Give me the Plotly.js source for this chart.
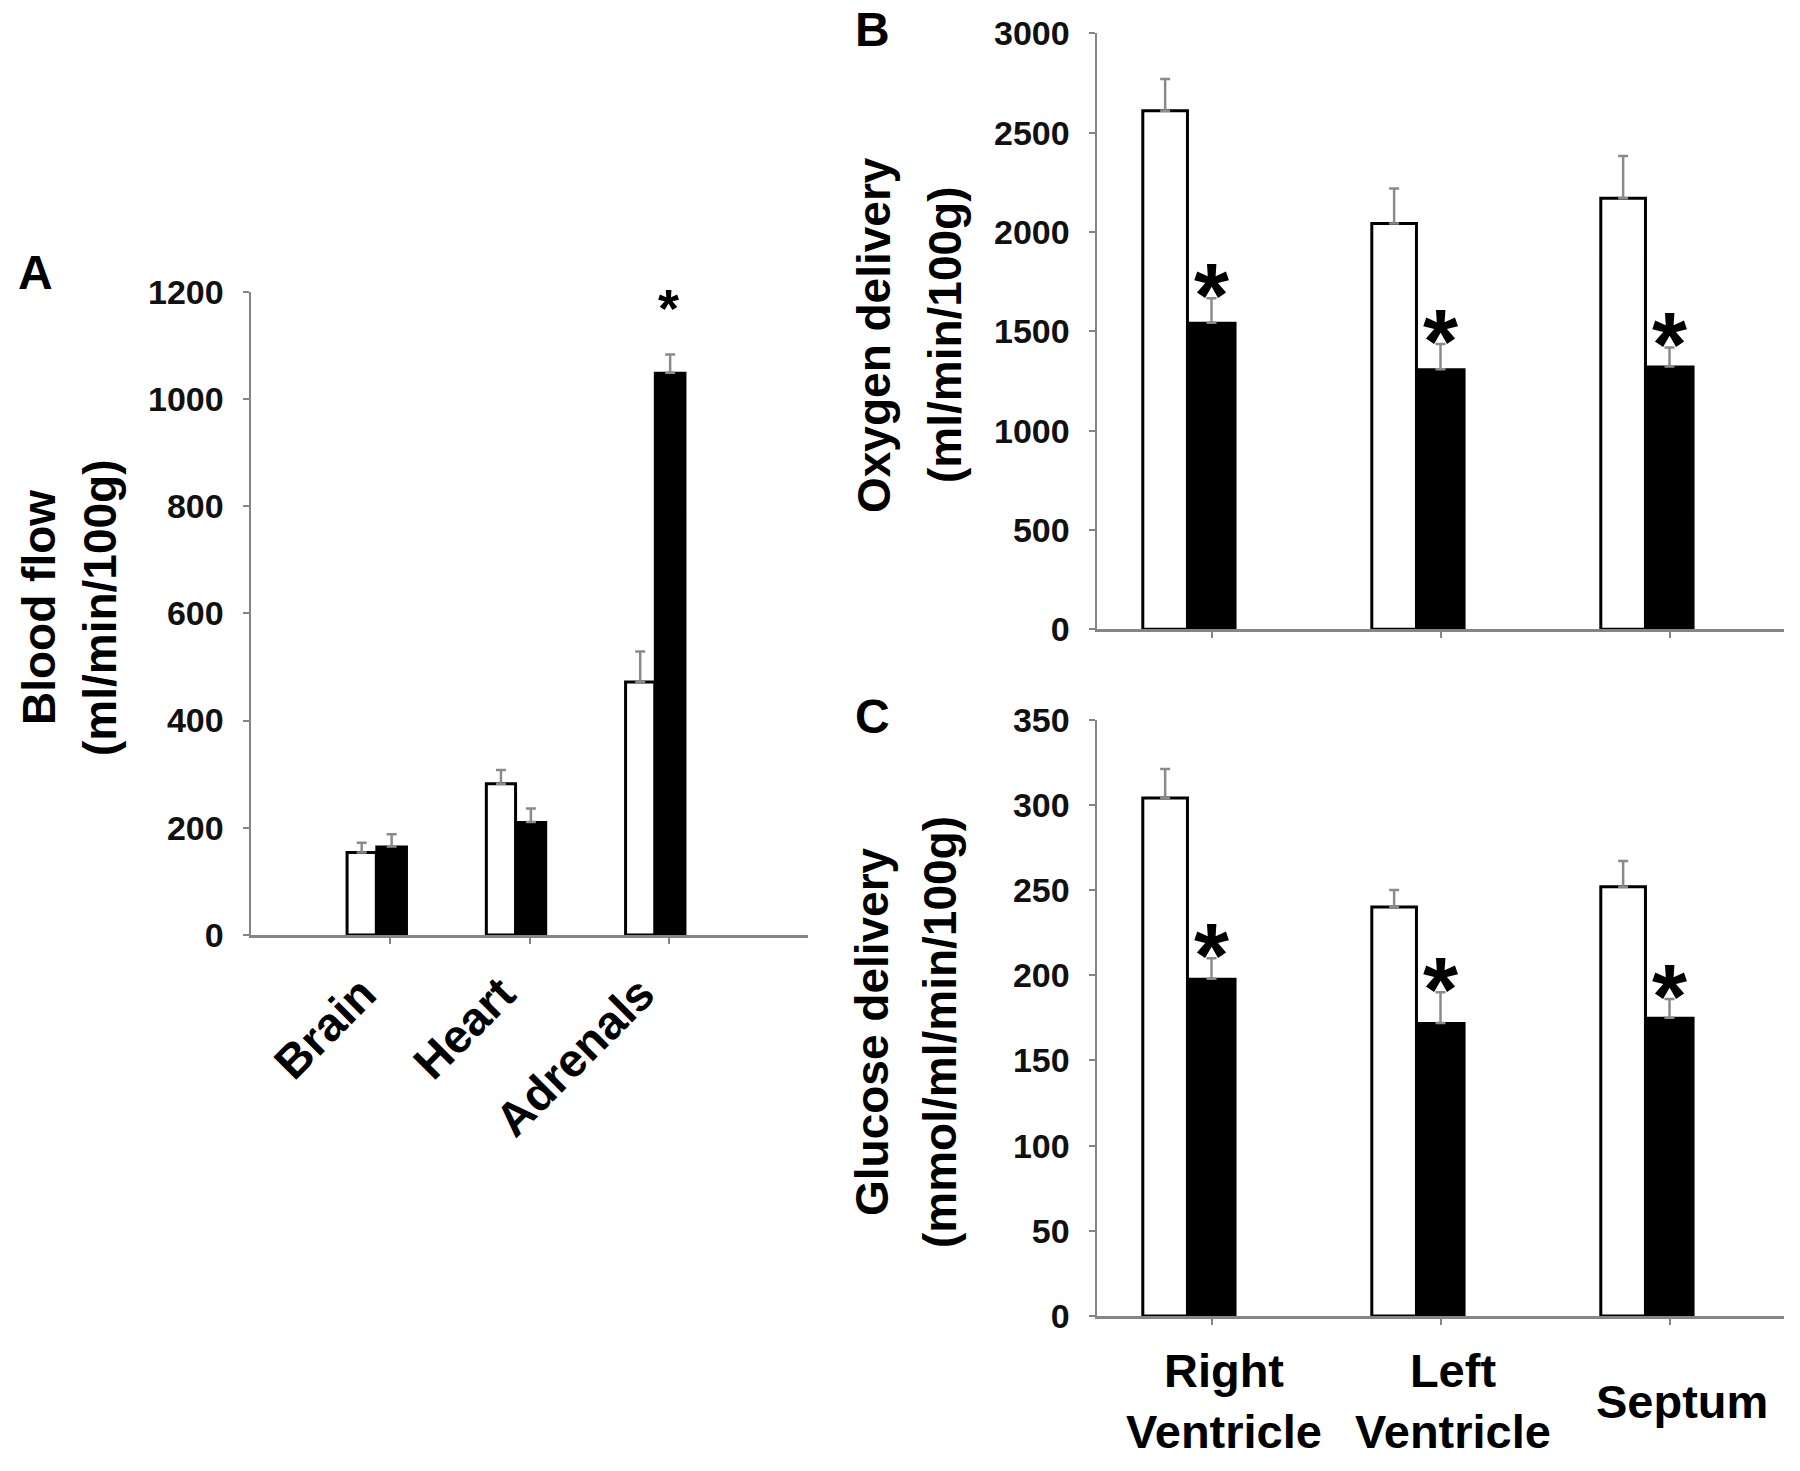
<!DOCTYPE html>
<html>
<head>
<meta charset="utf-8">
<script src="https://cdn.plot.ly/plotly-3.0.1.min.js"></script>
<style>html,body{margin:0;padding:0;background:#fff;}#chart{width:1800px;height:1471px;}</style>
</head>
<body>
<div id="chart"></div>
<script>
// ---- Panel A: blood flow (ml/min/100g)
const organs = ['Brain', 'Heart', 'Adrenals'];
const flowCtrl = [154, 282, 472];
const flowCtrlErr = [18, 26, 57];
const flowTrt = [165, 211, 1049];
const flowTrtErr = [23, 25, 34];
const flowSig = [false, false, true];

// ---- Panels B and C: cardiac regions
const regions = ['Right Ventricle', 'Left Ventricle', 'Septum'];
const regionLabels = ['Right<br>Ventricle', 'Left<br>Ventricle', 'Septum'];

// Panel B: oxygen delivery (ml/min/100g)
const o2Ctrl = [2610, 2043, 2170];
const o2CtrlErr = [160, 176, 213];
const o2Trt = [1543, 1309, 1323];
const o2TrtErr = [123, 127, 96];
const o2Sig = [true, true, true];

// Panel C: glucose delivery (mmol/ml/min/100g)
const gluCtrl = [304, 240, 252];
const gluCtrlErr = [17, 10, 15];
const gluTrt = [198, 172, 175];
const gluTrtErr = [12, 18, 11];
const gluSig = [true, true, true];

const FONT = 'Liberation Sans, Arial, Helvetica, sans-serif';
const AXIS_GRAY = '#858585';
const ERR_GRAY = '#8a8a8a';
const H = 1471, W = 1800;
const py = v => 1 - v / H;
const px = v => v / W;

function barPair(xcats, ctrl, ctrlErr, trt, trtErr, xa, ya, wWhite, offWhite, wBlack, offBlack) {
  const zeros = ctrl.map(() => 0);
  return [
    {
      type: 'bar', x: xcats, y: ctrl, xaxis: xa, yaxis: ya,
      width: wWhite, offset: offWhite,
      marker: {color: '#ffffff', line: {color: '#000000', width: 3}},
      error_y: {type: 'data', array: ctrlErr, arrayminus: zeros, symmetric: false,
                color: ERR_GRAY, thickness: 2.5, width: 5},
      showlegend: false, hoverinfo: 'skip'
    },
    {
      type: 'bar', x: xcats, y: trt, xaxis: xa, yaxis: ya,
      width: wBlack, offset: offBlack,
      marker: {color: '#000000', line: {color: '#000000', width: 2}},
      error_y: {type: 'data', array: trtErr, arrayminus: zeros, symmetric: false,
                color: ERR_GRAY, thickness: 2.5, width: 5},
      showlegend: false, hoverinfo: 'skip'
    }
  ];
}

const data = [].concat(
  barPair(organs, flowCtrl, flowCtrlErr, flowTrt, flowTrtErr, 'x', 'y', 0.21, -0.31, 0.22, -0.10),
  barPair(regions, o2Ctrl, o2CtrlErr, o2Trt, o2TrtErr, 'x2', 'y2', 0.195, -0.30, 0.21, -0.105),
  barPair(regions, gluCtrl, gluCtrlErr, gluTrt, gluTrtErr, 'x3', 'y3', 0.195, -0.30, 0.21, -0.105)
);

function xAxis(domain, range, anchor) {
  return {
    domain: domain, range: range, anchor: anchor, type: 'category',
    showline: true, linecolor: AXIS_GRAY, linewidth: 2.5,
    ticks: 'outside', ticklen: 6, tickwidth: 2, tickcolor: AXIS_GRAY,
    showticklabels: false, showgrid: false, zeroline: false, fixedrange: true
  };
}
function yAxis(domain, range, dtick, anchor) {
  return {
    domain: domain, range: range, dtick: dtick, anchor: anchor,
    showline: true, linecolor: AXIS_GRAY, linewidth: 2.5,
    ticks: 'outside', ticklen: 6, tickwidth: 2, tickcolor: AXIS_GRAY,
    tickfont: {family: FONT, size: 34, color: '#111', weight: 'bold'},
    ticklabelstandoff: 12,
    showgrid: false, zeroline: false, fixedrange: true
  };
}

const annotations = [];
function addText(obj) {
  annotations.push(Object.assign({showarrow: false, borderpad: 0}, obj));
}
const bold = (size) => ({family: FONT, size: size, color: '#000', weight: 'bold'});

// panel letters
addText({text: 'A', xref: 'paper', yref: 'paper', x: px(35), y: py(272.5), xanchor: 'center', yanchor: 'middle', font: bold(48)});
addText({text: 'B', xref: 'paper', yref: 'paper', x: px(872), y: py(29.5), xanchor: 'center', yanchor: 'middle', font: bold(48)});
addText({text: 'C', xref: 'paper', yref: 'paper', x: px(872), y: py(716.5), xanchor: 'center', yanchor: 'middle', font: bold(48)});

// y axis titles (two lines each)
addText({text: 'Blood flow', xref: 'paper', yref: 'paper', x: px(39), y: py(608), textangle: -90, xanchor: 'center', yanchor: 'middle', font: bold(46)});
addText({text: '(ml/min/100g)', xref: 'paper', yref: 'paper', x: px(100), y: py(608), textangle: -90, xanchor: 'center', yanchor: 'middle', font: bold(46)});
addText({text: 'Oxygen delivery', xref: 'paper', yref: 'paper', x: px(874), y: py(335), textangle: -90, xanchor: 'center', yanchor: 'middle', font: bold(46)});
addText({text: '(ml/min/100g)', xref: 'paper', yref: 'paper', x: px(945), y: py(335), textangle: -90, xanchor: 'center', yanchor: 'middle', font: bold(46)});
addText({text: 'Glucose delivery', xref: 'paper', yref: 'paper', x: px(872), y: py(1032), textangle: -90, xanchor: 'center', yanchor: 'middle', font: bold(46)});
addText({text: '(mmol/ml/min/100g)', xref: 'paper', yref: 'paper', x: px(940), y: py(1032), textangle: -90, xanchor: 'center', yanchor: 'middle', font: bold(46)});

// category labels, panel C
regions.forEach((r, i) => {
  addText({text: regionLabels[i], xref: 'x3', yref: 'paper', x: r, y: py(1401), xshift: 12, xanchor: 'center', yanchor: 'middle', align: 'center', font: bold(47)});
});

// significance asterisks above treated bars
flowSig.forEach((s, i) => {
  if (s) addText({text: '*', xref: 'x', yref: 'y', x: organs[i], y: flowTrt[i] + flowTrtErr[i], yshift: 46, xanchor: 'center', yanchor: 'middle', font: bold(54)});
});
o2Sig.forEach((s, i) => {
  if (s) addText({text: '*', xref: 'x2', yref: 'y2', x: regions[i], y: o2Trt[i] + o2TrtErr[i], yshift: 2, xanchor: 'center', yanchor: 'middle', font: bold(90)});
});
gluSig.forEach((s, i) => {
  if (s) addText({text: '*', xref: 'x3', yref: 'y3', x: regions[i], y: gluTrt[i] + gluTrtErr[i], yshift: 2, xanchor: 'center', yanchor: 'middle', font: bold(90)});
});

const xa = xAxis([px(251), px(808)], [-1, 3], 'y');
Object.assign(xa, {
  showticklabels: true, tickangle: -45,
  tickfont: {family: FONT, size: 47, color: '#000', weight: 'bold'},
  ticklabelstandoff: 4, ticklabelshift: -28
});

const layout = {
  width: W, height: H,
  margin: {l: 0, r: 0, t: 0, b: 0},
  paper_bgcolor: '#ffffff', plot_bgcolor: 'rgba(0,0,0,0)',
  barmode: 'overlay',
  showlegend: false,
  font: {family: FONT, color: '#000'},
  xaxis: xa,
  yaxis: yAxis([py(935), py(291.7)], [0, 1200], 200, 'x'),
  xaxis2: xAxis([px(1097), px(1784)], [-0.5, 2.5], 'y2'),
  yaxis2: yAxis([py(629.3), py(33.3)], [0, 3000], 500, 'x2'),
  xaxis3: xAxis([px(1097), px(1784)], [-0.5, 2.5], 'y3'),
  yaxis3: yAxis([py(1316), py(719.7)], [0, 350], 50, 'x3'),
  annotations: annotations
};

Plotly.newPlot('chart', data, layout, {staticPlot: true, displayModeBar: false});
</script>
</body>
</html>
